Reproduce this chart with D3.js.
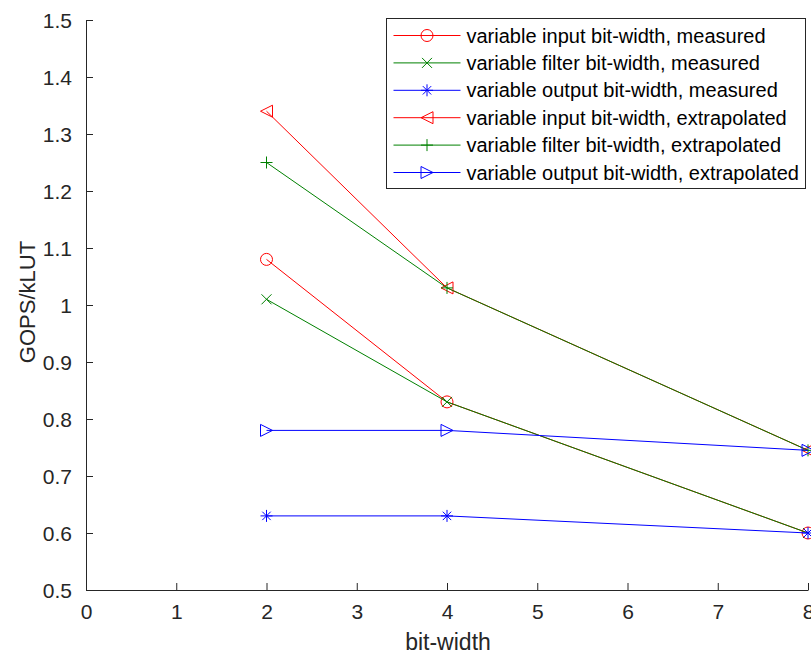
<!DOCTYPE html>
<html>
<head>
<meta charset="utf-8">
<script src="https://cdn.jsdelivr.net/npm/d3@7"></script>
<style>
  body { margin: 0; background: #fff; }
  svg { display: block; font-family: "Liberation Sans", Arial, sans-serif; }
</style>
</head>
<body>
<svg id="chart" width="811" height="656"></svg>
<script>
// bit-widths on the x axis
const bitWidths = [2, 4, 8];

// GOPS/kLUT, one array per series
const inputMeasured = [1.08, 0.83, 0.6];
const filterMeasured = [1.01, 0.83, 0.6];
const outputMeasured = [0.63, 0.63, 0.6];
const inputExtrap = [1.34, 1.03, 0.745];
const filterExtrap = [1.25, 1.03, 0.745];
const outputExtrap = [0.78, 0.78, 0.745];

const xTicks = [0, 1, 2, 3, 4, 5, 6, 7, 8];
const yTicks = [0.5, 0.6, 0.7, 0.8, 0.9, 1, 1.1, 1.2, 1.3, 1.4, 1.5];

const series = [
  { name: "variable input bit-width, measured", values: inputMeasured, color: "#ff0000", marker: "circle" },
  { name: "variable filter bit-width, measured", values: filterMeasured, color: "#008000", marker: "x" },
  { name: "variable output bit-width, measured", values: outputMeasured, color: "#0000ff", marker: "star" },
  { name: "variable input bit-width, extrapolated", values: inputExtrap, color: "#ff0000", marker: "left" },
  { name: "variable filter bit-width, extrapolated", values: filterExtrap, color: "#008000", marker: "plus" },
  { name: "variable output bit-width, extrapolated", values: outputExtrap, color: "#0000ff", marker: "right" },
];

const AXIS_COLOR = "#262626";
const TICK_LEN = 7;

const svg = d3.select("#chart");

const x = d3.scaleLinear().domain([0, 8]).range([86, 808]);
const y = d3.scaleLinear().domain([0.5, 1.5]).range([590, 20]);

// axes (box off, ticks inside)
const xAxis = svg.append("g")
  .attr("transform", `translate(0,${y(0.5)})`)
  .call(d3.axisBottom(x).tickValues(xTicks).tickFormat(d3.format("d"))
    .tickSizeInner(-TICK_LEN).tickSizeOuter(0).tickPadding(14));
const yAxis = svg.append("g")
  .attr("transform", `translate(${x(0)},0)`)
  .call(d3.axisLeft(y).tickValues(yTicks).tickFormat((d) => String(d))
    .tickSizeInner(-TICK_LEN).tickSizeOuter(0).tickPadding(14));

[xAxis, yAxis].forEach((g) => {
  g.select(".domain").attr("stroke", AXIS_COLOR).attr("stroke-width", 1);
  g.selectAll(".tick line").attr("stroke", AXIS_COLOR).attr("stroke-width", 1);
  g.selectAll(".tick text")
    .attr("fill", AXIS_COLOR)
    .attr("font-size", 21)
    .attr("font-family", "Liberation Sans, Arial, sans-serif");
});
xAxis.selectAll(".tick text").attr("dy", "0.71em");
yAxis.selectAll(".tick text").attr("dy", "0.36em");

// axis labels
svg.append("text")
  .attr("x", 448).attr("y", 650)
  .attr("text-anchor", "middle")
  .attr("font-size", 23)
  .attr("fill", AXIS_COLOR)
  .text("bit-width");
svg.append("text")
  .attr("transform", `translate(35,302) rotate(-90)`)
  .attr("text-anchor", "middle")
  .attr("font-size", 22)
  .attr("fill", AXIS_COLOR)
  .text("GOPS/kLUT");

// marker drawing
const MS = 6;
function drawMarker(g, type, color) {
  let el;
  if (type === "circle") {
    el = g.append("circle").attr("r", MS);
  } else if (type === "x") {
    el = g.append("path").attr("d", "M-5,-5L5,5M-5,5L5,-5");
  } else if (type === "plus") {
    el = g.append("path").attr("d", `M${-MS},0H${MS}M0,${-MS}V${MS}`);
  } else if (type === "star") {
    el = g.append("path").attr("d",
      `M${-MS},0H${MS}M0,${-MS}V${MS}M-4.2,-4.2L4.2,4.2M-4.2,4.2L4.2,-4.2`);
  } else if (type === "left") {
    el = g.append("path").attr("d", `M${-MS},0L${MS},${-MS}L${MS},${MS}Z`);
  } else if (type === "right") {
    el = g.append("path").attr("d", `M${MS},0L${-MS},${-MS}L${-MS},${MS}Z`);
  }
  el.attr("fill", "none").attr("stroke", color).attr("stroke-width", 1);
}

const line = d3.line()
  .x((d) => x(d[0]))
  .y((d) => y(d[1]));

const plot = svg.append("g");
series.forEach((s) => {
  const pts = bitWidths.map((b, i) => [b, s.values[i]]);
  plot.append("path")
    .datum(pts)
    .attr("d", line)
    .attr("fill", "none")
    .attr("stroke", s.color)
    .attr("stroke-width", 1);
  pts.forEach((p) => {
    const g = plot.append("g").attr("transform", `translate(${x(p[0])},${y(p[1])})`);
    drawMarker(g, s.marker, s.color);
  });
});

// legend
const legend = svg.append("g").attr("transform", "translate(386.5,18.5)");
legend.append("rect")
  .attr("width", 419).attr("height", 170)
  .attr("fill", "#fff")
  .attr("stroke", AXIS_COLOR)
  .attr("stroke-width", 1);
series.forEach((s, i) => {
  const row = legend.append("g").attr("transform", `translate(0,${17 + i * 27.4})`);
  row.append("line")
    .attr("x1", 7).attr("x2", 74)
    .attr("stroke", s.color).attr("stroke-width", 1);
  drawMarker(row.append("g").attr("transform", "translate(40.5,0)"), s.marker, s.color);
  row.append("text")
    .attr("x", 80).attr("dy", "0.35em")
    .attr("font-size", 20)
    .attr("fill", "#000")
    .text(s.name);
});
</script>
</body>
</html>
